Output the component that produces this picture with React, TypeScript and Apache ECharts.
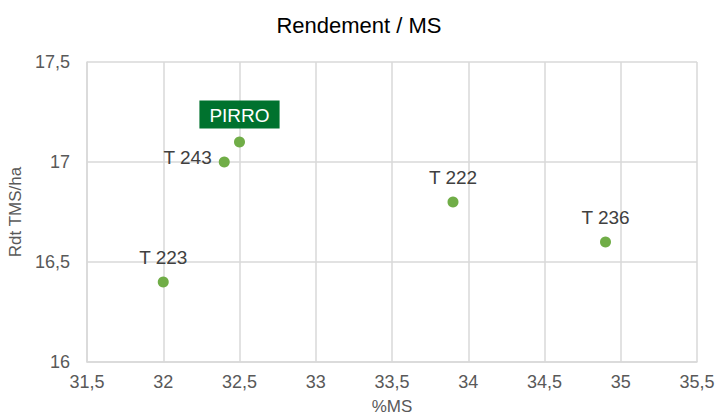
import React, { useEffect, useRef } from "react";
import * as echarts from "echarts";

const names = ["T 223", "T 243", "PIRRO", "T 222", "T 236"];
const msValues = [32.0, 32.4, 32.5, 33.9, 34.9];
const rdtValues = [16.4, 17.0, 17.1, 16.8, 16.6];

const fmt = (v: number) => String(v).replace(".", ",");
const FONT = "Liberation Sans, Arial, sans-serif";

export default function App() {
  const ref = useRef<HTMLDivElement>(null);
  useEffect(() => {
    if (!ref.current) return;
    const chart = echarts.init(ref.current, undefined, { renderer: "svg" });
    const labelBase = {
      show: true,
      formatter: "{b}",
      color: "#404040",
      fontSize: 19,
      lineHeight: 22,
      fontFamily: FONT,
      opacity: 1,
    };
    const data = names.map((n, i) => {
      let label: any = { ...labelBase, position: "top", distance: 8 };
      if (n === "T 243") {
        label = { ...labelBase, position: "left", distance: 7, offset: [0, -5] };
      } else if (n === "PIRRO") {
        label = {
          ...labelBase,
          position: "top",
          distance: 8,
          color: "#ffffff",
          backgroundColor: "#00722E",
          padding: [4, 10, 2, 10],
        };
      }
      return { name: n, value: [msValues[i], rdtValues[i]], label };
    });
    chart.setOption({
      animation: false,
      title: {
        text: "Rendement / MS",
        left: "center",
        top: 9,
        textStyle: {
          color: "#000000",
          fontWeight: "normal",
          fontSize: 22,
          fontFamily: FONT,
        },
      },
      grid: { left: 87, right: 21, top: 62, bottom: 55, containLabel: false, outerBoundsMode: "none" },
      xAxis: {
        type: "value",
        min: 31.5,
        max: 35.5,
        interval: 0.5,
        name: "%MS",
        nameLocation: "middle",
        nameGap: 36,
        nameTextStyle: { color: "#595959", fontSize: 17, fontFamily: FONT },
        axisLine: { show: true, lineStyle: { color: "#d9d9d9", width: 1.5 } },
        axisTick: { show: false },
        splitLine: { show: true, lineStyle: { color: "#d9d9d9", width: 1.5 } },
        axisLabel: {
          color: "#595959",
          fontSize: 18,
          margin: 11,
          fontFamily: FONT,
          formatter: (v: number) => fmt(v),
        },
      },
      yAxis: {
        type: "value",
        min: 16,
        max: 17.5,
        interval: 0.5,
        name: "Rdt TMS/ha",
        nameLocation: "middle",
        nameGap: 63,
        nameTextStyle: { color: "#595959", fontSize: 17, fontFamily: FONT },
        axisLine: { show: true, lineStyle: { color: "#d9d9d9", width: 1.5 } },
        axisTick: { show: false },
        splitLine: { show: true, lineStyle: { color: "#d9d9d9", width: 1.5 } },
        axisLabel: {
          color: "#595959",
          fontSize: 18,
          margin: 17,
          fontFamily: FONT,
          formatter: (v: number) => fmt(v),
        },
      },
      series: [
        {
          type: "scatter",
          symbolSize: 11,
          itemStyle: { color: "#70AD47", opacity: 1 },
          data,
        },
      ],
    });
    return () => chart.dispose();
  }, []);
  return <div ref={ref} style={{ width: 718, height: 417, position: "absolute", left: 0, top: 0, background: "#fff" }} />;
}
